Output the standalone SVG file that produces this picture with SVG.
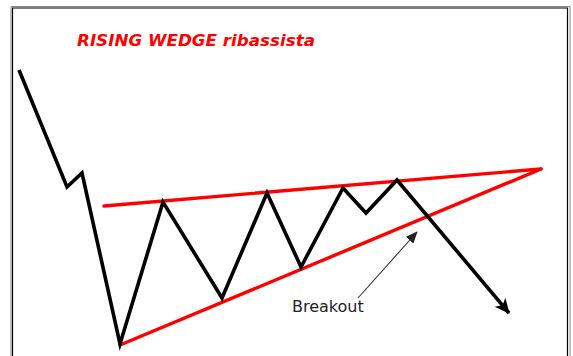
<svg xmlns="http://www.w3.org/2000/svg" width="573" height="356" viewBox="0 0 573 356">
<style>
.price{fill:none;stroke:#000;stroke-width:3.6;stroke-linejoin:miter;stroke-linecap:butt}
.trend{fill:none;stroke:#ff0000;stroke-width:3.4;stroke-linecap:round}
.thin{fill:none;stroke:#333;stroke-width:1.1}
.title{font-family:"DejaVu Sans",sans-serif;font-weight:bold;font-style:italic;font-size:15.5px;fill:#ff0000}
.lbl{font-family:"DejaVu Sans",sans-serif;font-size:16px;fill:#222}
</style>
<defs>
<marker id="bigArrow" markerUnits="userSpaceOnUse" markerWidth="16" markerHeight="16" refX="14" refY="7" orient="auto" viewBox="0 0 16 14">
<path d="M0,0 L15,7 L0,14 L4,7 Z" fill="#000"/>
</marker>
<marker id="smallArrow" markerUnits="userSpaceOnUse" markerWidth="12" markerHeight="10" refX="11" refY="5" orient="auto" viewBox="0 0 12 10">
<path d="M0,0 L12,5 L0,10 Z" fill="#222"/>
</marker>
</defs>
<rect x="0" y="0" width="573" height="356" fill="#fff"/>
<g id="frame">
<path d="M11,356 V6.5 H570 V356" fill="none" stroke="#888" stroke-width="1"/>
<path d="M12.5,356 V8 H567.5 V356" fill="none" stroke="#000" stroke-width="1.2"/>
</g>
<g id="title"><text class="title" x="77" y="46" textLength="238" lengthAdjust="spacingAndGlyphs">RISING WEDGE ribassista</text></g>
<g id="connectors">
<line id="upper-trend" class="trend" x1="104" y1="206" x2="541" y2="169"/>
<line id="lower-trend" class="trend" x1="120" y1="345" x2="541" y2="169"/>
<polyline id="price" class="price" points="19,70 67,187 82,173 120,344 163,202 222,298 267,193 301,267 343,188 366,213 397,180 509,313" marker-end="url(#bigArrow)"/>
<line id="breakout-arrow" class="thin" x1="358" y1="298" x2="417" y2="232" marker-end="url(#smallArrow)"/>
</g>
<g id="breakout-label"><text class="lbl" x="292" y="312">Breakout</text></g>
</svg>
